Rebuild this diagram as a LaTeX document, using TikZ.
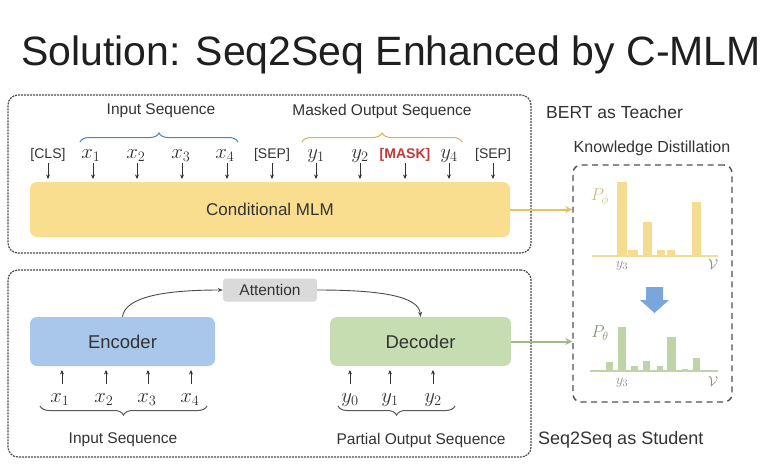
\documentclass[tikz,border=0pt]{standalone}
\usepackage{fontspec}
\setmainfont{Liberation Sans}
\usetikzlibrary{decorations.pathreplacing,arrows.meta}
\definecolor{txt}{HTML}{333333}
\definecolor{mlmfill}{HTML}{F9DE8F}
\definecolor{encfill}{HTML}{A8C7EA}
\definecolor{decfill}{HTML}{C6DDB2}
\definecolor{attfill}{HTML}{DADADA}
\definecolor{teachbarcol}{HTML}{F6DC90}
\definecolor{studbarcol}{HTML}{BDD4A6}
\definecolor{bluebrace}{HTML}{4F82C4}
\definecolor{goldbrace}{HTML}{D6B44E}
\definecolor{maskred}{HTML}{C23A3A}
\definecolor{bluearrow}{HTML}{7AA6DE}
\definecolor{teachline}{HTML}{E6C35C}
\definecolor{studline}{HTML}{9CBB86}
\definecolor{kdframe}{HTML}{4B505C}
\tikzset{
  lbl/.style={font=\fontsize{15.5}{18}\selectfont, text=txt, inner sep=0pt},
  tok/.style={font=\fontsize{14}{16}\selectfont, text=txt, anchor=base, inner sep=0pt},
  mtok/.style={font=\fontsize{20}{22}\selectfont, text=txt, anchor=base, inner sep=0pt},
  darr/.style={-{Stealth[length=4.5pt,width=4pt]}, line width=0.9pt, draw=black!80},
  frame/.style={draw=black!70, line width=1.2pt, dash pattern=on 2pt off 1pt, rounded corners=10pt, inner sep=0pt},
  block/.style={rounded corners=7pt, inner sep=0pt, text=txt},
  brc/.style={decorate, decoration={brace, amplitude=9pt}, line width=1pt},
  attarr/.style={-{Stealth[length=5pt,width=4pt]}, line width=0.9pt, draw=black!70},
  kdarr/.style={-{Stealth[length=7pt,width=7pt]}, line width=2pt},
}
\begin{document}
\begin{tikzpicture}[x=1pt,y=-1pt]
\useasboundingbox (0,0) rectangle (783,468);
\fill[white] (0,0) rectangle (783,468);

% title
\node[font=\fontsize{41}{44}\selectfont, text=black!88, anchor=base, inner sep=0pt] (title) at (391,66) {Solution: Seq2Seq Enhanced by C-MLM};

% frames
\node[frame, minimum width=523pt, minimum height=158pt] (topf) at (269.5,174) {};
\node[frame, minimum width=523pt, minimum height=187pt] (botf) at (269.5,363.5) {};

% teacher
\node[block, fill=mlmfill, minimum width=480pt, minimum height=55pt, font=\fontsize{17}{20}\selectfont] (mlm) at (270,209.5) {Conditional MLM};

\node[tok] (cls) at (48,158) {[CLS]};
\node[mtok] (tx1) at (91,158) {$x_1$};
\node[mtok] (tx2) at (136,158) {$x_2$};
\node[mtok] (tx3) at (181,158) {$x_3$};
\node[mtok] (tx4) at (225,158) {$x_4$};
\node[tok] (sep1) at (272,158) {[SEP]};
\node[mtok] (ty1) at (316,158) {$y_1$};
\node[mtok] (ty2) at (360,158) {$y_2$};
\node[tok, text=maskred, font=\fontsize{14}{16}\selectfont\bfseries] (mask) at (405,158) {[MASK]};
\node[mtok] (ty4) at (449,158) {$y_4$};
\node[tok] (sep2) at (493,158) {[SEP]};

\foreach \xx in {48,93,137,182,227,272,316,360,405,449,493}{
  \draw[darr] (\xx,163) -- (\xx,179);
}

\draw[brc, draw=bluebrace] (80,142) -- (238,142);
\node[lbl] (inseq) at (161,111) {Input Sequence};
\draw[brc, draw=goldbrace] (302,142) -- (462,142);
\node[lbl] (mseq) at (382,111) {Masked Output Sequence};

\node[font=\fontsize{17.5}{20}\selectfont, text=txt, anchor=west, inner sep=0pt] (teacher) at (546,112) {BERT as Teacher};
\node[font=\fontsize{16}{18}\selectfont, text=txt, inner sep=0pt] (kdl) at (652,148) {Knowledge Distillation};

% KD frame
\node[draw=kdframe, line width=1.4pt, dash pattern=on 6pt off 4.5pt, rounded corners=8pt, minimum width=159pt, minimum height=237pt, inner sep=0pt] (kd) at (652.5,283.5) {};

\draw[kdarr, draw=teachline] (mlm.east) -- (mlm.east -| kd.west);

% teacher bars
\draw[draw=teachbarcol, line width=1.5pt] (592,256) -- (718,256);
\foreach \xa/\xb/\yt in {617/627/182, 628/638/250, 643/652/222, 657/665/250, 667/675/250, 692/701/202}{
  \fill[fill=teachbarcol] (\xa,256) rectangle (\xb,\yt);
}
\node[font=\fontsize{17}{19}\selectfont, text=teachbarcol!85!black, inner sep=0pt] (pphi) at (600,197) {$P_\phi$};
\node[font=\fontsize{14}{16}\selectfont, text=black!45, inner sep=0pt] (y3a) at (622,266) {$y_3$};
\node[font=\fontsize{15}{16}\selectfont, text=black!45, inner sep=0pt] (va) at (713,265) {$\mathcal{V}$};

% blue arrow
\fill[bluearrow] (646,287) -- (663,287) -- (663,300) -- (669,300) -- (654.5,313) -- (640,300) -- (646,300) -- cycle;

% student bars
\draw[draw=studbarcol, line width=1.5pt] (590,371) -- (718,371);
\foreach \xa/\xb/\yt in {606/613/362, 618/626/327, 631/638/366, 643/650/361, 657/663/366, 667/676/337, 682/688/369, 693/700/358}{
  \fill[fill=studbarcol] (\xa,371) rectangle (\xb,\yt);
}
\node[font=\fontsize{17}{19}\selectfont, text=studbarcol!70!black, inner sep=0pt] (ptheta) at (600,333) {$P_\theta$};
\node[font=\fontsize{14}{16}\selectfont, text=black!45, inner sep=0pt] (y3b) at (622,383) {$y_3$};
\node[font=\fontsize{15}{16}\selectfont, text=black!45, inner sep=0pt] (vb) at (713,382) {$\mathcal{V}$};

% student
\node[block, fill=encfill, minimum width=185pt, minimum height=49pt, font=\fontsize{18.5}{20}\selectfont] (enc) at (122.5,341.5) {Encoder};
\node[block, fill=decfill, minimum width=181pt, minimum height=49pt, font=\fontsize{18.5}{20}\selectfont] (dec) at (420.5,341.5) {Decoder};
\node[fill=attfill, rounded corners=3pt, minimum width=94pt, minimum height=23pt, inner sep=0pt, font=\fontsize{15.5}{18}\selectfont, text=txt] (att) at (270,290) {Attention};

\draw[attarr] (enc.north) .. controls (125,298) and (160,290) .. (att.west);
\draw[attarr] (att.east) .. controls (380,290) and (419,296) .. (dec.north);

\draw[kdarr, draw=studline] (dec.east) -- (dec.east -| kd.west);

\node[mtok, font=\fontsize{21}{22}\selectfont] (bx1) at (60,402) {$x_1$};
\node[mtok, font=\fontsize{21}{22}\selectfont] (bx2) at (104,402) {$x_2$};
\node[mtok, font=\fontsize{21}{22}\selectfont] (bx3) at (147,402) {$x_3$};
\node[mtok, font=\fontsize{21}{22}\selectfont] (bx4) at (190,402) {$x_4$};
\node[mtok, font=\fontsize{21}{22}\selectfont] (by0) at (350,402) {$y_0$};
\node[mtok, font=\fontsize{21}{22}\selectfont] (by1) at (390,402) {$y_1$};
\node[mtok, font=\fontsize{21}{22}\selectfont] (by2) at (433,402) {$y_2$};
\foreach \xx in {62,106,148,191,350,390,433}{
  \draw[darr] (\xx,384) -- (\xx,370);
}

\draw[brc, draw=black!65, decoration={mirror}] (40,406) -- (207,406);
\node[lbl] (inseq2) at (123,440) {Input Sequence};
\draw[brc, draw=black!65, decoration={mirror}] (338,406) -- (455,406);
\node[lbl] (pseq) at (421,440) {Partial Output Sequence};

\node[font=\fontsize{18}{20}\selectfont, text=txt, anchor=west, inner sep=0pt] (student) at (538,440) {Seq2Seq as Student};
\end{tikzpicture}
\end{document}
